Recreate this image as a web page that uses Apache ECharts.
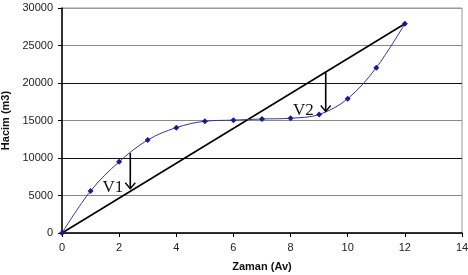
<!DOCTYPE html>
<html><head><meta charset="utf-8">
<script src="https://cdn.jsdelivr.net/npm/echarts@6/dist/echarts.min.js"></script>
<style>html,body{margin:0;padding:0;background:#fff}#c{width:468px;height:275px}</style>
</head><body><div id="c"></div>
<script>
const months = [0,1,2,3,4,5,6,7,8,9,10,11,12];
const volume = [0,5600,9500,12400,14050,14900,15050,15200,15300,15800,17900,22050,27900];
const lineX = [0,12];
const lineY = [0,27900];
const arrowNames = ['V1','V2'];
const arrowX = [2.39,9.23];
const arrowTop = [10650,21460];
const arrowBottom = [5900,16200];
const labelGap = [7,12];
const xTicks = [0,2,4,6,8,10,12,14];
const yTicks = [0,5000,10000,15000,20000,25000,30000];

const chart = echarts.init(document.getElementById('c'));
chart.setOption({
  animation:false,
  grid:{left:62,top:8,right:6,bottom:42,show:true,borderColor:'#999',borderWidth:1,containLabel:false,outerBoundsMode:'none'},
  xAxis:{type:'value',min:xTicks[0],max:xTicks[xTicks.length-1],interval:2,
    name:'Zaman (Av)',nameLocation:'middle',nameGap:28,
    nameTextStyle:{fontFamily:'Liberation Sans, Arial',fontWeight:'bold',fontSize:11,color:'#111'},
    axisLine:{lineStyle:{color:'#000',width:1.5}},
    axisTick:{show:true,length:4,lineStyle:{color:'#000'}},
    axisLabel:{fontFamily:'Liberation Sans, Arial',fontSize:11,color:'#222',margin:9,formatter:v=>String(v)},
    splitLine:{show:false}},
  yAxis:{type:'value',min:yTicks[0],max:yTicks[yTicks.length-1],interval:5000,
    name:'Hacim (m3)',nameLocation:'middle',nameGap:47,
    nameTextStyle:{fontFamily:'Liberation Sans, Arial',fontWeight:'bold',fontSize:11,color:'#111'},
    axisLine:{show:true,lineStyle:{color:'#000',width:1.5}},
    axisTick:{show:true,length:4,lineStyle:{color:'#000'}},
    axisLabel:{fontFamily:'Liberation Sans, Arial',fontSize:11,color:'#222',margin:9,formatter:v=>String(v)},
    splitLine:{show:true,lineStyle:{color:['#888','#888','#111','#888','#111','#888','#999'],width:1.2}}},
  series:[
    {type:'line',data:lineX.map((x,i)=>[x,lineY[i]]),symbol:'none',
      lineStyle:{color:'#000',width:1.6},z:3},
    {type:'line',data:months.map((m,i)=>[m,volume[i]]),smooth:0.35,symbol:'diamond',symbolSize:6,
      lineStyle:{color:'#3333aa',width:1},itemStyle:{color:'#1a1a8c'},z:4},
    {type:'custom',z:5,data:arrowX.map((x,i)=>[x,arrowTop[i],arrowBottom[i],i]),
      renderItem:function(params,api){
        const p1=api.coord([api.value(0),api.value(1)]);
        const p2=api.coord([api.value(0),api.value(2)]);
        const k=api.value(3);
        return {type:'group',children:[
          {type:'line',shape:{x1:p1[0],y1:p1[1],x2:p2[0],y2:p2[1]},style:{stroke:'#000',lineWidth:1.6}},
          {type:'polyline',shape:{points:[[p2[0]-5,p2[1]-6],[p2[0],p2[1]],[p2[0]+5,p2[1]-6]]},style:{stroke:'#000',lineWidth:1.4,fill:null}},
          {type:'text',style:{text:arrowNames[k],x:p2[0]-labelGap[k],y:p2[1]-1,align:'right',verticalAlign:'middle',
            font:'17px "Liberation Serif", "Times New Roman", serif',fill:'#111'}}
        ]};
      }}
  ]
});
</script></body></html>
